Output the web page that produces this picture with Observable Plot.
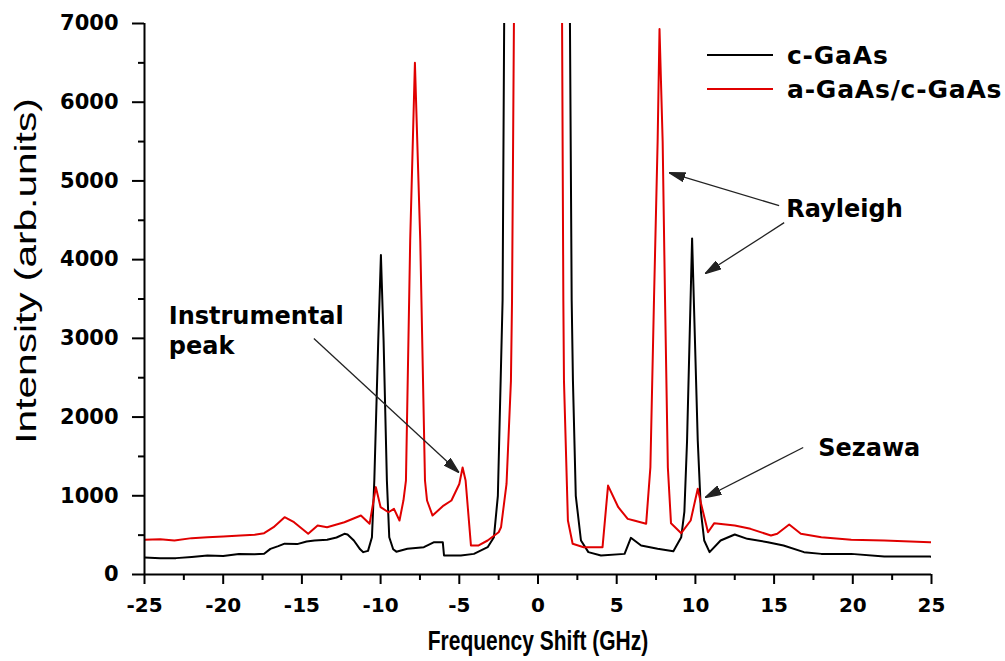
<!DOCTYPE html>
<html>
<head>
<meta charset="utf-8">
<script src="https://cdn.jsdelivr.net/npm/d3@7"></script>
<script src="https://cdn.jsdelivr.net/npm/@observablehq/plot@0.6"></script>
<style>
  html, body { margin: 0; padding: 0; background: #fff; }
  #chart { position: relative; width: 1005px; height: 661px; }
  .legend { position: absolute; left: 707px; top: 38px; font: bold 25px "DejaVu Sans", sans-serif; letter-spacing: 0.8px; color: #000; }
  .legend .row { display: flex; align-items: center; height: 34px; white-space: nowrap; }
  .legend .swatch { display: inline-block; width: 66px; height: 2px; margin-right: 14px; }
</style>
</head>
<body>
<div id="chart"></div>
<script>
// Brillouin spectrum of bulk crystalline GaAs
const freqC = [-25, -24, -23, -22, -21, -20, -19, -18, -17.4, -17.0, -16.5, -16.1, -15.3, -14.7, -14.2, -13.4, -12.8, -12.3, -12.1, -11.7, -11.3, -11.1, -10.8,
  -10.55, -10.4, -10.15, -9.98, -9.81, -9.6, -9.45, -9.2, -9.0, -8.3, -7.25, -6.6, -6.05, -5.97, -4.9, -4.07, -3.2, -2.8,
  -2.55, -2.25, -2.15, -1.8, -1.0, 0, 1.0, 1.7, 2.03, 2.14, 2.22, 2.4, 2.73, 3.2, 4.0, 5.5, 5.9, 6.55, 7.6, 8.6,
  9.1, 9.3, 9.47, 9.79, 10.15, 10.35, 10.56, 10.9, 11.6, 12.5, 13.3, 14.6, 15.6, 16.9, 18.0, 19.9, 22.0, 24.9, 25];
const intensC = [215, 205, 208, 222, 240, 236, 260, 256, 264, 326, 360, 392, 386, 420, 432, 442, 470, 517, 508, 432, 320, 284, 300,
  474, 1190, 2970, 4060, 2970, 1190, 474, 320, 290, 326, 347, 411, 411, 241, 241, 262, 347, 474,
  1000, 3480, 7000, 16000, 40000, 60000, 40000, 16000, 7000, 3480, 2460, 1000, 432, 284, 241, 262, 466, 368, 326, 296,
  474, 800, 1700, 4270, 1700, 800, 432, 284, 432, 508, 453, 411, 368, 284, 262, 262, 228, 228, 225];

// Brillouin spectrum of the amorphous GaAs layer on crystalline GaAs
const freqA = [-25, -24, -23.1, -22, -21, -20, -18.9, -18, -17.4, -16.8, -16.1, -15.5, -14.6, -14.0, -13.4, -12.3, -11.25, -10.7,
  -10.3, -10.0, -9.5, -9.15, -8.8, -8.55, -8.39, -8.12, -7.82, -7.48, -7.18, -7.05, -6.7, -6.0, -5.5, -5.0, -4.79, -4.6, -4.26,
  -3.8, -3.2, -2.5, -2.35, -2.0, -1.72, -1.65, -1.53, -1.2, 0, 1.2, 1.53, 1.61, 1.65, 1.9, 2.2, 2.9, 4.1, 4.45, 5.1, 5.7, 6.1,
  6.87, 7.14, 7.37, 7.6, 7.72, 7.92, 8.07, 8.25, 8.45, 9.1, 9.7, 10.15, 10.36, 10.8, 11.2, 12.5, 13.5, 14.8, 15.2, 15.96,
  16.7, 18.0, 19.9, 22.0, 24.9, 25];
const intensA = [440, 448, 432, 462, 474, 482, 495, 505, 525, 601, 728, 664, 517, 622, 601, 664, 749, 644,
  1110, 855, 791, 834, 686, 940, 1194, 4240, 6500, 4240, 1194, 940, 749, 876, 940, 1150, 1360, 1194, 368,
  368, 432, 537, 600, 1150, 2460, 3480, 7000, 20000, 70000, 20000, 7000, 3480, 2460, 686, 390, 347, 347, 1130, 855, 707, 686,
  644, 1360, 3500, 5500, 6930, 5500, 3500, 1360, 650, 525, 686, 1090, 900, 537, 652, 622, 580, 495, 517, 635,
  517, 474, 440, 432, 411, 410];

const seriesNames = ["c-GaAs", "a-GaAs/c-GaAs"];
const seriesColors = ["#000000", "#e00000"];

const xMajor = [-25, -20, -15, -10, -5, 0, 5, 10, 15, 20, 25];
const xMinor = [-22.5, -17.5, -12.5, -7.5, -2.5, 2.5, 7.5, 12.5, 17.5, 22.5];
const yMajor = [0, 1000, 2000, 3000, 4000, 5000, 6000, 7000];
const yMinor = [500, 1500, 2500, 3500, 4500, 5500, 6500];

const xTitle = "Frequency Shift (GHz)";
const yTitle = "Intensity (arb.units)";

// Callout labels and their arrows (frequency in GHz, intensity in arb. units)
const calloutText = ["Instrumental\npeak", "Rayleigh", "Sezawa"];
const calloutX = [-23.46, 15.77, 17.8];
const calloutY = [2807, 4547, 1511];
const arrowFromX = [-14.24, 15.32, 15.64, 16.85];
const arrowFromY = [2997, 4686, 4470, 1613];
const arrowToX = [-5.02, 8.33, 10.62, 10.62];
const arrowToY = [1295, 5105, 3823, 978];

const spectra = [
  ...freqC.map((f, i) => ({freq: f, intensity: intensC[i], sample: seriesNames[0]})),
  ...freqA.map((f, i) => ({freq: f, intensity: intensA[i], sample: seriesNames[1]}))
];
const callouts = calloutText.map((t, i) => ({text: t, x: calloutX[i], y: calloutY[i]}));
const arrows = arrowFromX.map((x, i) => ({x1: x, y1: arrowFromY[i], x2: arrowToX[i], y2: arrowToY[i]}));

// Solid triangular arrowhead
const SVGNS = "http://www.w3.org/2000/svg";
function solidHead(color, context) {
  const doc = (context && context.document) || document;
  const m = doc.createElementNS(SVGNS, "marker");
  m.setAttribute("viewBox", "0 -5 16 10");
  m.setAttribute("refX", 16);
  m.setAttribute("refY", 0);
  m.setAttribute("markerUnits", "userSpaceOnUse");
  m.setAttribute("markerWidth", 16);
  m.setAttribute("markerHeight", 10);
  m.setAttribute("orient", "auto");
  const p = doc.createElementNS(SVGNS, "path");
  p.setAttribute("d", "M0,-4.5L16,0L0,4.5Z");
  p.setAttribute("fill", color);
  m.appendChild(p);
  return m;
}

const tickFont = {fontFamily: "DejaVu Sans", fontWeight: "bold"};

function draw(head) {
  return Plot.plot({
    width: 1005,
    height: 661,
    marginLeft: 144,
    marginRight: 74,
    marginTop: 23,
    marginBottom: 87,
    style: {background: "#fff", color: "#000", overflow: "visible"},
    x: {domain: [-25, 25], axis: null},
    y: {domain: [0, 7000], axis: null},
    color: {domain: seriesNames, range: seriesColors},
    marks: [
      Plot.line(spectra, {x: "freq", y: "intensity", z: "sample", stroke: "sample", strokeWidth: 2, clip: true}),
      Plot.ruleX([-25], {strokeWidth: 2}),
      Plot.ruleY([0], {strokeWidth: 2}),
      Plot.axisY(yMajor, {tickSize: 12, tickPadding: 14, strokeWidth: 2, fontSize: 21, ...tickFont, tickFormat: d => String(d), label: null}),
      Plot.axisY(yMinor, {tickSize: 6, strokeWidth: 2, tickFormat: () => "", label: null}),
      Plot.axisX(xMajor, {tickSize: 10, tickPadding: 13, strokeWidth: 2, fontSize: 20, ...tickFont, tickFormat: d => String(d), label: null}),
      Plot.axisX(xMinor, {tickSize: 6, strokeWidth: 2, tickFormat: () => "", label: null}),
      Plot.text([xTitle], {frameAnchor: "bottom", dy: 67, lineAnchor: "middle", textAnchor: "middle",
        fontFamily: "Liberation Sans", fontWeight: "bold", fontSize: 21}),
      Plot.text([yTitle], {frameAnchor: "left", dx: -118, dy: -28, rotate: -90, lineAnchor: "middle", textAnchor: "middle",
        fontFamily: "Liberation Sans", fontSize: 32}),
      Plot.link(arrows, {x1: "x1", y1: "y1", x2: "x2", y2: "y2", stroke: "#222", strokeWidth: 1.3, markerEnd: head}),
      Plot.text(callouts, {x: "x", y: "y", text: "text", textAnchor: "start", lineAnchor: "bottom", lineHeight: 1.25,
        fontFamily: "DejaVu Sans", fontWeight: "bold", fontSize: 24})
    ]
  });
}

let svg;
try { svg = draw(solidHead); } catch (e) { svg = draw("arrow"); }
const chart = document.getElementById("chart");
chart.appendChild(svg);

// The axis titles use a tall, condensed lettering: stretch them about their centres
function stretch(el, sx, sy) {
  if (!el) return;
  const g = document.createElementNS(SVGNS, "g");
  el.parentNode.insertBefore(g, el);
  g.appendChild(el);
  const b = g.getBBox();
  const cx = b.x + b.width / 2, cy = b.y + b.height / 2;
  g.setAttribute("transform", `translate(${cx},${cy}) scale(${sx},${sy}) translate(${-cx},${-cy})`);
}
const textNamed = s => Array.from(svg.querySelectorAll("text")).find(t => t.textContent === s);
stretch(textNamed(xTitle), 1, 1.3);
stretch(textNamed(yTitle), 0.95, 1.27);

// Legend overlaid at the upper right of the plot area
const legend = d3.select(chart).append("div").attr("class", "legend");
seriesNames.forEach((name, i) => {
  const row = legend.append("div").attr("class", "row");
  row.append("span").attr("class", "swatch").style("background", seriesColors[i]);
  row.append("span").text(name);
});
</script>
</body>
</html>
